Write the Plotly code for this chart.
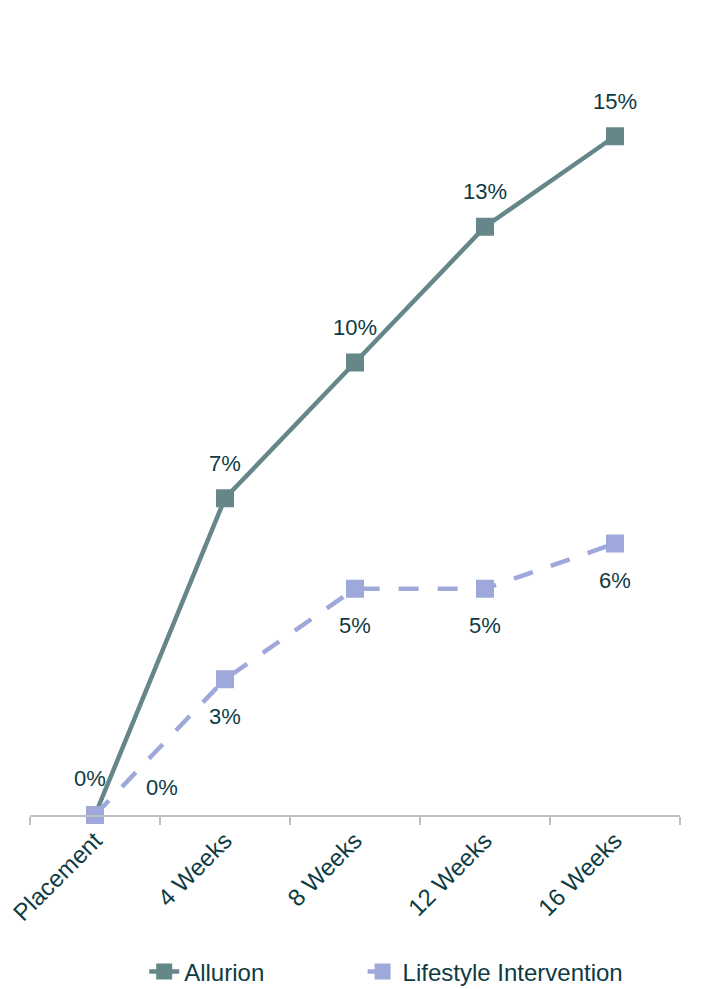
import plotly.graph_objects as go

categories = ["Placement", "4 Weeks", "8 Weeks", "12 Weeks", "16 Weeks"]
allurion = [0, 7, 10, 13, 15]
lifestyle = [0, 3, 5, 5, 6]
series_names = ["Allurion", "Lifestyle Intervention"]

ALL_C = "#668789"
LIFE_C = "#9FA8DA"
TXT = "#0E3B43"
FONT = "Liberation Sans, Arial, sans-serif"
NB = "\u00a0"

fig = go.Figure()
fig.add_trace(go.Scatter(
    x=categories, y=allurion, name=series_names[0] + NB * 14, mode="lines+markers",
    line=dict(color=ALL_C, width=4.5),
    marker=dict(symbol="square", size=18, color=ALL_C),
    cliponaxis=False,
))
fig.add_trace(go.Scatter(
    x=categories, y=lifestyle, name=series_names[1], mode="lines+markers",
    line=dict(color=LIFE_C, width=4.5, dash="20px,19px"),
    marker=dict(symbol="square", size=18, color=LIFE_C),
    cliponaxis=False,
))

annotations = []
for i, (c, v) in enumerate(zip(categories, allurion)):
    annotations.append(dict(
        x=c, y=v, text=f"{v}%", showarrow=False,
        xshift=-5 if i == 0 else 0, yshift=37 if i == 0 else 35,
        xanchor="center", yanchor="middle",
        font=dict(family=FONT, size=22, color=TXT),
    ))
for i, (c, v) in enumerate(zip(categories, lifestyle)):
    annotations.append(dict(
        x=c, y=v, text=f"{v}%", showarrow=False,
        xshift=67 if i == 0 else 0, yshift=28 if i == 0 else -37,
        xanchor="center", yanchor="middle",
        font=dict(family=FONT, size=22, color=TXT),
    ))

fig.update_layout(
    width=714, height=989,
    margin=dict(l=22, r=42, t=83, b=182),
    plot_bgcolor="white", paper_bgcolor="white",
    font=dict(family=FONT, size=22, color=TXT),
    annotations=annotations,
    showlegend=True,
    legend=dict(orientation="h", x=0.548, xanchor="center",
                yref="container", y=0.0253, yanchor="middle",
                font=dict(family=FONT, size=24, color=TXT)),
    xaxis=dict(
        type="category", range=[-0.5, 4.5], automargin=False,
        showline=True, linecolor="#BFBFBF", linewidth=2,
        ticks="outside", tickson="boundaries", ticklen=8, tickcolor="#BFBFBF", tickwidth=2,
        tickangle=-45, showgrid=False, zeroline=False,
        tickfont=dict(family=FONT, size=24, color=TXT),
    ),
    yaxis=dict(range=[0, 16], visible=False, showgrid=False, zeroline=False, automargin=False),
)

fig.write_html("out.html")
